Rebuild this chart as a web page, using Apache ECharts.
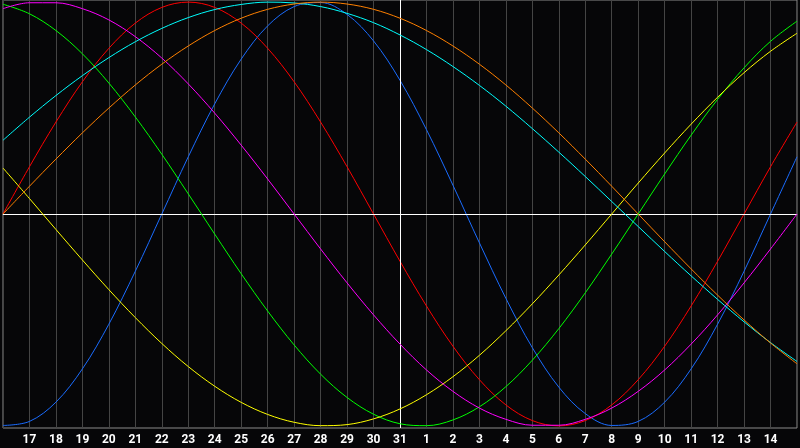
<!DOCTYPE html>
<html>
<head>
<meta charset="utf-8">
<script src="https://cdn.jsdelivr.net/npm/echarts@6/dist/echarts.min.js"></script>
<style>
html,body{margin:0;padding:0;background:#060608;}
#c{width:800px;height:448px;}
</style>
</head>
<body>
<div id="c"></div>
<script>
const days = ['16','17','18','19','20','21','22','23','24','25','26','27','28','29','30','31',
  '1','2','3','4','5','6','7','8','9','10','11','12','13','14','15'];

const physical = [-0.998,-0.979,-0.888,-0.731,-0.520,-0.270,0,0.270,0.520,0.731,0.888,0.979,0.998,0.942,0.817,0.631,
  0.398,0.136,-0.136,-0.398,-0.631,-0.817,-0.942,-0.998,-0.979,-0.888,-0.731,-0.520,-0.270,0,0.270];
const emotional = [0,0.223,0.434,0.624,0.782,0.901,0.975,1.0,0.975,0.901,0.782,0.624,0.434,0.223,0,-0.223,
  -0.434,-0.624,-0.782,-0.901,-0.975,-1.0,-0.975,-0.901,-0.782,-0.624,-0.434,-0.223,0,0.223,0.434];
const intellectual = [0.990,0.945,0.866,0.756,0.618,0.458,0.282,0.095,-0.095,-0.282,-0.458,-0.618,-0.756,-0.866,-0.945,-0.990,
  -0.999,-0.972,-0.910,-0.815,-0.690,-0.541,-0.372,-0.189,0,0.189,0.372,0.541,0.690,0.815,0.910];
const aesthetic = [0.217,0.073,-0.073,-0.217,-0.357,-0.489,-0.611,-0.720,-0.813,-0.889,-0.946,-0.983,-0.999,-0.994,-0.967,-0.920,
  -0.853,-0.768,-0.667,-0.551,-0.424,-0.288,-0.146,0,0.146,0.288,0.424,0.551,0.667,0.768,0.853];
const intuitive = [0.969,0.997,0.997,0.969,0.916,0.837,0.736,0.614,0.476,0.325,0.165,0,-0.165,-0.325,-0.476,-0.614,
  -0.736,-0.837,-0.916,-0.969,-0.997,-0.997,-0.969,-0.916,-0.837,-0.736,-0.614,-0.476,-0.325,-0.165,0];
const spiritual = [0.348,0.457,0.559,0.653,0.738,0.813,0.876,0.927,0.965,0.989,1.0,0.996,0.979,0.947,0.903,0.845,
  0.776,0.696,0.607,0.509,0.403,0.292,0.177,0.059,-0.059,-0.177,-0.292,-0.403,-0.509,-0.607,-0.696];
const awareness = [0,0.131,0.259,0.383,0.5,0.609,0.707,0.793,0.866,0.924,0.966,0.991,1.0,0.991,0.966,0.924,
  0.866,0.793,0.707,0.609,0.5,0.383,0.259,0.131,0,-0.131,-0.259,-0.383,-0.5,-0.609,-0.707];

const names = ['Physical','Emotional','Intellectual','Aesthetic','Intuitive','Spiritual','Awareness'];
const values = [physical, emotional, intellectual, aesthetic, intuitive, spiritual, awareness];
const colors = ['#1a6cff','#ff0000','#00ff00','#ffff00','#ff00ff','#00ffff','#ff8000'];

const chart = echarts.init(document.getElementById('c'));
const series = values.map((v, i) => ({
  name: names[i],
  type: 'line',
  data: v,
  smooth: 0.35,
  symbol: 'none',
  z: 3 + i,
  lineStyle: { color: colors[i], width: 1 },
  silent: true
}));
series[0].markLine = {
  silent: true,
  symbol: 'none',
  label: { show: false },
  lineStyle: { color: '#ffffff', width: 1, type: 'solid' },
  data: [{ yAxis: 0 }, { xAxis: '31' }]
};

chart.setOption({
  backgroundColor: '#060608',
  animation: false,
  grid: { left: 0, right: 1, top: 0, height: 428, show: true, borderColor: '#8a8a8a', borderWidth: 1, backgroundColor: 'transparent' },
  xAxis: {
    type: 'category',
    data: days,
    boundaryGap: false,
    axisLine: { show: true, lineStyle: { color: '#8a8a8a' } },
    axisTick: { show: false },
    splitLine: { show: true, interval: 0, lineStyle: { color: '#444444', width: 1 } },
    axisLabel: {
      interval: 0,
      color: '#ffffff',
      fontFamily: 'Roboto',
      fontWeight: 'bold',
      fontSize: 12,
      margin: 6,
      formatter: (v, idx) => (idx === 0 || idx === days.length - 1) ? '' : v
    }
  },
  yAxis: {
    type: 'value',
    min: -1.01,
    max: 1.01,
    axisLine: { show: false },
    axisTick: { show: false },
    axisLabel: { show: false },
    splitLine: { show: false }
  },
  series: series
});
</script>
</body>
</html>
